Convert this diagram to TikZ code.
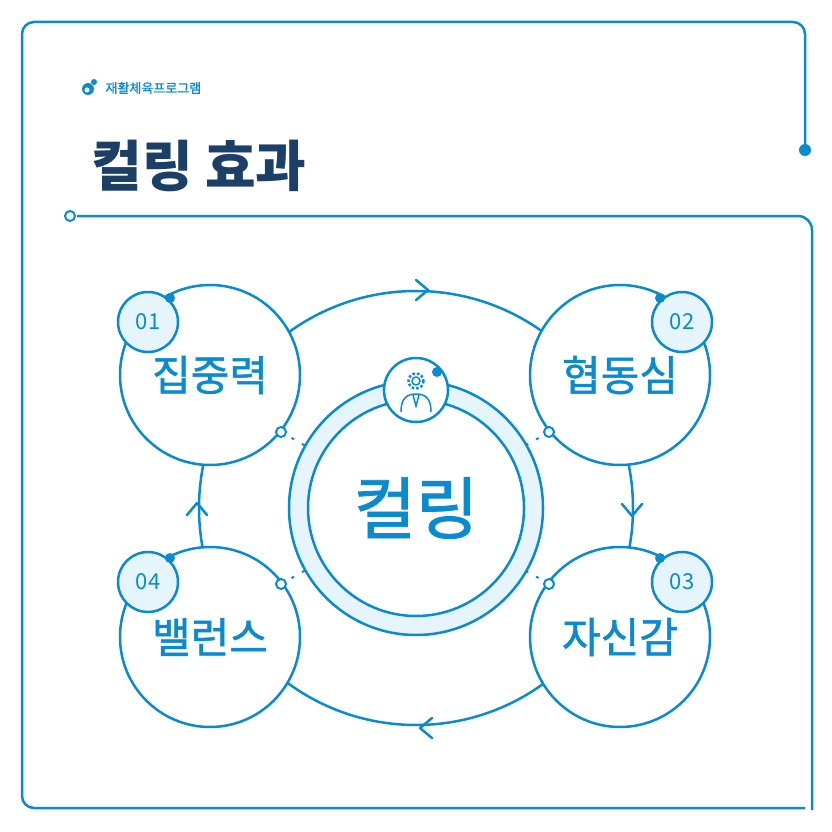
\documentclass[tikz,border=0pt]{standalone}
\usepackage{fontspec}
\newfontfamily\kr{Noto Sans CJK KR}
\newfontfamily\krm[FakeBold=1.2]{Noto Sans CJK KR}
\usetikzlibrary{positioning,arrows.meta,calc}
\definecolor{curlblue}{HTML}{0A8BCF}
\definecolor{curlnavy}{HTML}{1B3F66}
\definecolor{curlpale}{HTML}{E6F4FC}
\tikzset{
  effect/.style={circle,draw=curlblue,line width=2.5pt,fill=white,minimum size=180pt,inner sep=0pt,
    font=\krm\fontsize{42}{42}\selectfont,text=curlblue},
  badge/.style={circle,draw=curlblue,line width=2.5pt,fill=curlpale,minimum size=60pt,inner sep=0pt,
    font=\kr\fontsize{22}{22}\selectfont,text=curlblue},
  joint/.style={circle,draw=curlblue,line width=2pt,fill=white,minimum size=10pt,inner sep=0pt},
  chev/.style={draw=curlblue,line width=2.5pt,line cap=round,line join=round}
}
\begin{document}
\begin{tikzpicture}[x=1pt,y=-1pt]
\useasboundingbox (0,0) rectangle (832,832);

% frames
\draw[curlblue,line width=2.5pt,rounded corners=12pt] (805,150) -- (805,22) -- (22,22) -- (22,808) -- (805,808);
\fill[curlblue] (805,150) circle (6);
\draw[curlblue,line width=2.5pt,rounded corners=14pt] (77,216) -- (812,216) -- (812,810);
\node[joint] (start) at (70,216) {};

% heading
\fill[curlblue] (88,89) circle (6);
\fill[white] (87,90) circle (2.5);
\fill[curlblue] (94,82) circle (3);
\node[anchor=west,text=curlblue,font=\krm\fontsize{13}{13}\selectfont] (program) at (102,88) {재활체육프로그램};
\node[anchor=west,text=curlnavy,font=\kr\bfseries\fontsize{55}{55}\selectfont] (title) at (88,166) {컬링 효과};

% cycle
\coordinate (hub) at (416,508);
\draw[curlblue,line width=2.5pt] (hub) circle (217);
\draw[chev] (416,280) -- (428,290) -- (416,300);
\draw[chev] (622,504) -- (632,516) -- (642,504);
\draw[chev] (432,718) -- (420,728) -- (432,738);
\draw[chev] (187,515) -- (197,503) -- (207,515);

% links to center
\foreach \a/\b in {281/432,549/432,549/584,281/584}{
  \draw[curlblue,line width=2pt,dash pattern=on 3pt off 9pt] (\a,\b) -- ($(hub)!0.6!(\a,\b)$);
}

% center
\draw[curlblue,line width=2.5pt,fill=curlpale] (hub) circle (127);
\node[circle,draw=curlblue,line width=2.5pt,fill=white,minimum size=216pt,inner sep=0pt,
  text=curlblue,font=\krm\fontsize{68}{68}\selectfont] (curling) at (hub) {컬링};

% effects
\node[effect] (focus) at (210,375) {집중력};
\node[effect] (teamwork) at (620,375) {협동심};
\node[effect] (confidence) at (620,637) {자신감};
\node[effect] (balance) at (210,637) {밸런스};

\node[badge] (n1) at (148,322) {01};
\node[badge] (n2) at (682,322) {02};
\node[badge] (n3) at (682,582) {03};
\node[badge] (n4) at (148,582) {04};
\foreach \p in {(170,298),(660,298),(660,558),(170,558)} \fill[curlblue] \p circle (5);

\node[joint] (j1) at (281,432) {};
\node[joint] (j2) at (549,432) {};
\node[joint] (j3) at (549,584) {};
\node[joint] (j4) at (281,584) {};

% icon
\node[circle,draw=curlblue,line width=2.5pt,fill=white,minimum size=64pt] (icon) at (416,390) {};
\fill[curlblue] (437,372) circle (5);
\draw[curlblue,line width=1.5pt] (416,381) circle (4);
\draw[curlblue,line width=2.5pt,dash pattern=on 2.5pt off 2pt] (416,381) circle (7.5);
\draw[curlblue,line width=1.5pt] (401,412) .. controls (401,398) and (407,394) .. (416,394)
  .. controls (425,394) and (431,398) .. (431,412);
\draw[curlblue,line width=1.5pt] (413,395) -- (416,406) -- (419,395);
\end{tikzpicture}
\end{document}
